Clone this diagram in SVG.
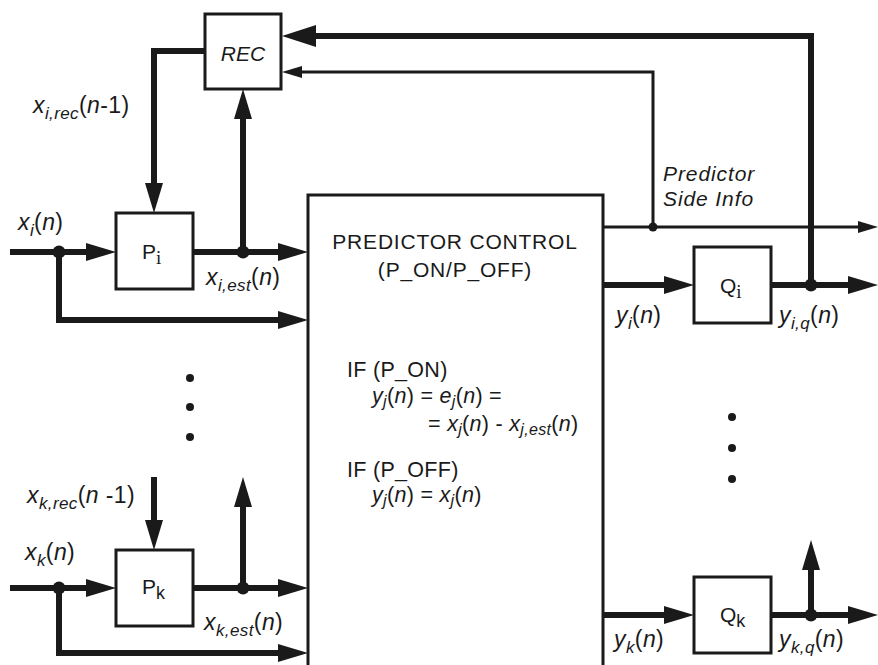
<svg xmlns="http://www.w3.org/2000/svg" width="878" height="665" viewBox="0 0 878 665">
<style>
.box{fill:#fff;stroke:#1a1a1a;stroke-width:3}
.thick{fill:none;stroke:#1a1a1a;stroke-width:6}
.thin{fill:none;stroke:#1a1a1a;stroke-width:3}
.dot{fill:#1a1a1a}
text{font-family:"Liberation Sans",Arial,sans-serif;font-size:21px;fill:#1a1a1a}
.lab{font-size:23px;letter-spacing:0.4px}
.side{font-size:21px;letter-spacing:0.9px;font-style:italic}
.eq{font-size:21.5px;letter-spacing:0.3px}
.it{font-style:italic}
.sub{font-size:17px;font-style:italic}
.eq .sub{font-size:16px}
.ser{font-family:"Liberation Serif","Times New Roman",serif;font-style:normal}
</style>
<defs>
<marker id="ah" markerUnits="userSpaceOnUse" markerWidth="30" markerHeight="18" refX="10" refY="9" orient="auto"><path d="M0,0 L30,9 L0,18 z" fill="#1a1a1a"/></marker>
<marker id="ahBig" markerUnits="userSpaceOnUse" markerWidth="34" markerHeight="22" refX="12" refY="11" orient="auto"><path d="M0,0 L34,11 L0,22 z" fill="#1a1a1a"/></marker>
<marker id="as" markerUnits="userSpaceOnUse" markerWidth="20" markerHeight="12" refX="8" refY="6" orient="auto"><path d="M0,0 L20,6 L0,12 z" fill="#1a1a1a"/></marker>
</defs>
<rect width="878" height="665" fill="#fff"/>

<g id="connectors">
<path class="thick" d="M205,51 H154 V193" marker-end="url(#ah)"/>
<path class="thick" d="M10,252 H96" marker-end="url(#ah)"/>
<path class="thick" d="M193,252 H288" marker-end="url(#ah)"/>
<path class="thick" d="M243,252 V109" marker-end="url(#ah)"/>
<path class="thick" d="M59,252 V320 H288" marker-end="url(#ah)"/>
<path class="thick" d="M811,285 V36 H304" marker-end="url(#ahBig)"/>
<path class="thin" d="M653,227 V72 H294" marker-end="url(#as)"/>
<path class="thin" d="M603,227 H866" marker-end="url(#as)"/>
<path class="thick" d="M603,285 H674" marker-end="url(#ah)"/>
<path class="thick" d="M771,285 H858" marker-end="url(#ah)"/>
<path class="thick" d="M10,588 H96" marker-end="url(#ah)"/>
<path class="thick" d="M193,588 H288" marker-end="url(#ah)"/>
<path class="thick" d="M243,588 V497" marker-end="url(#ah)"/>
<path class="thick" d="M154,477 V530" marker-end="url(#ah)"/>
<path class="thick" d="M59,588 V653 H288" marker-end="url(#ah)"/>
<path class="thick" d="M603,615 H674" marker-end="url(#ah)"/>
<path class="thick" d="M771,615 H858" marker-end="url(#ah)"/>
<path class="thick" d="M811,615 V560" marker-end="url(#ah)"/>
<circle class="dot" cx="59" cy="252" r="6.5"/>
<circle class="dot" cx="243" cy="252" r="6.5"/>
<circle class="dot" cx="653" cy="227" r="4.5"/>
<circle class="dot" cx="811" cy="285" r="6.5"/>
<circle class="dot" cx="59" cy="588" r="6.5"/>
<circle class="dot" cx="243" cy="588" r="6.5"/>
<circle class="dot" cx="811" cy="615" r="6.5"/>
</g>

<g id="ellipsis">
<circle class="dot" cx="190" cy="378" r="4"/>
<circle class="dot" cx="190" cy="407" r="4"/>
<circle class="dot" cx="190" cy="437" r="4"/>
<circle class="dot" cx="732" cy="417" r="4"/>
<circle class="dot" cx="732" cy="448" r="4"/>
<circle class="dot" cx="732" cy="479" r="4"/>
</g>

<g id="rec">
<rect class="box" x="205" y="14" width="76" height="75"/>
<text class="it" x="243" y="61" text-anchor="middle" font-size="22">REC</text>
</g>

<g id="pi">
<rect class="box" x="116" y="213" width="77" height="76"/>
<text x="142" y="259" font-size="22">P<tspan class="ser" font-size="19" dy="5">i</tspan></text>
</g>

<g id="pk">
<rect class="box" x="116" y="550" width="77" height="76"/>
<text x="142" y="594" font-size="22">P<tspan font-size="18" dy="5">k</tspan></text>
</g>

<g id="qi">
<rect class="box" x="694" y="247" width="77" height="76"/>
<text x="720" y="293" font-size="22">Q<tspan class="ser" font-size="19" dy="5">i</tspan></text>
</g>

<g id="qk">
<rect class="box" x="694" y="577" width="77" height="76"/>
<text x="720" y="622" font-size="22">Q<tspan font-size="18" dy="5">k</tspan></text>
</g>

<g id="control">
<rect class="box" x="308" y="195" width="295" height="520"/>
<text x="455" y="249" text-anchor="middle" letter-spacing="0.8">PREDICTOR CONTROL</text>
<text x="455" y="277" text-anchor="middle" letter-spacing="0.8">(P_ON/P_OFF)</text>
<text x="347" y="377" class="eq">IF (P_ON)</text>
<text x="372" y="403" class="eq"><tspan class="it">y</tspan><tspan class="sub" dy="4">j</tspan><tspan dy="-4">(</tspan><tspan class="it">n</tspan>) = <tspan class="it">e</tspan><tspan class="sub" dy="4">j</tspan><tspan dy="-4">(</tspan><tspan class="it">n</tspan>) =</text>
<text x="428" y="431" class="eq">= <tspan class="it">x</tspan><tspan class="sub" dy="4">j</tspan><tspan dy="-4">(</tspan><tspan class="it">n</tspan>) - <tspan class="it">x</tspan><tspan class="sub" dy="4">j,est</tspan><tspan dy="-4">(</tspan><tspan class="it">n</tspan>)</text>
<text x="347" y="477" class="eq">IF (P_OFF)</text>
<text x="372" y="502" class="eq"><tspan class="it">y</tspan><tspan class="sub" dy="4">j</tspan><tspan dy="-4">(</tspan><tspan class="it">n</tspan>) = <tspan class="it">x</tspan><tspan class="sub" dy="4">j</tspan><tspan dy="-4">(</tspan><tspan class="it">n</tspan>)</text>
</g>

<g id="labels">
<text class="lab" x="33" y="113"><tspan class="it">x</tspan><tspan class="sub" dy="6">i,rec</tspan><tspan dy="-6">(</tspan><tspan class="it">n</tspan>-1)</text>
<text class="lab" x="18" y="230"><tspan class="it">x</tspan><tspan class="sub" dy="6">i</tspan><tspan dy="-6">(</tspan><tspan class="it">n</tspan>)</text>
<text class="lab" x="206" y="285"><tspan class="it">x</tspan><tspan class="sub" dy="6">i,est</tspan><tspan dy="-6">(</tspan><tspan class="it">n</tspan>)</text>
<text class="lab" x="27" y="503"><tspan class="it">x</tspan><tspan class="sub" dy="6">k,rec</tspan><tspan dy="-6">(</tspan><tspan class="it">n</tspan> -1)</text>
<text class="lab" x="25" y="560"><tspan class="it">x</tspan><tspan class="sub" dy="6">k</tspan><tspan dy="-6">(</tspan><tspan class="it">n</tspan>)</text>
<text class="lab" x="204" y="630"><tspan class="it">x</tspan><tspan class="sub" dy="6">k,est</tspan><tspan dy="-6">(</tspan><tspan class="it">n</tspan>)</text>
<text class="side" x="663" y="181">Predictor</text>
<text class="side" x="663" y="206">Side Info</text>
<text class="lab" x="616" y="323"><tspan class="it">y</tspan><tspan class="sub" dy="6">i</tspan><tspan dy="-6">(</tspan><tspan class="it">n</tspan>)</text>
<text class="lab" x="779" y="323"><tspan class="it">y</tspan><tspan class="sub" dy="6">i,q</tspan><tspan dy="-6">(</tspan><tspan class="it">n</tspan>)</text>
<text class="lab" x="614" y="647"><tspan class="it">y</tspan><tspan class="sub" dy="6">k</tspan><tspan dy="-6">(</tspan><tspan class="it">n</tspan>)</text>
<text class="lab" x="779" y="647"><tspan class="it">y</tspan><tspan class="sub" dy="6">k,q</tspan><tspan dy="-6">(</tspan><tspan class="it">n</tspan>)</text>
</g>
</svg>
